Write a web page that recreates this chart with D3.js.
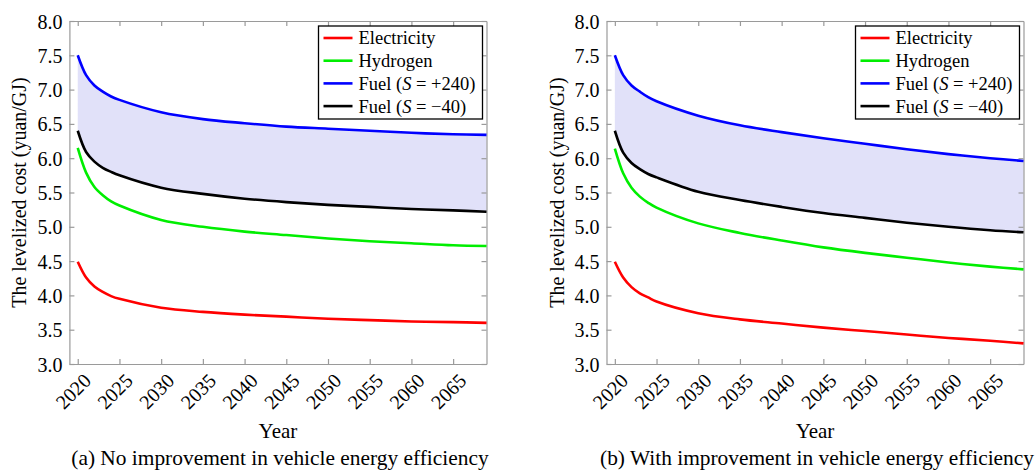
<!DOCTYPE html>
<html>
<head>
<meta charset="utf-8">
<script src="https://cdn.jsdelivr.net/npm/d3@7"></script>
<style>
  html, body { margin: 0; padding: 0; background: #fff; }
  svg, svg text { font-family: "Liberation Serif", "Times New Roman", serif !important; }
  svg { display: block; }
</style>
</head>
<body>
<svg id="chart" width="1035" height="470"></svg>
<script>
// ---------- data ----------
const years = [2020, 2021, 2022, 2023, 2024, 2025, 2030, 2035, 2040, 2045, 2050, 2055, 2060, 2065, 2069];

// (a) No improvement in vehicle energy efficiency
const elecA  = [4.49, 4.26, 4.13, 4.05, 3.99, 3.95, 3.82, 3.76, 3.72, 3.69, 3.66, 3.64, 3.62, 3.61, 3.60];
const hydroA = [6.15, 5.79, 5.58, 5.46, 5.37, 5.31, 5.10, 5.00, 4.93, 4.88, 4.83, 4.79, 4.76, 4.73, 4.72];
const fuelHiA = [7.50, 7.21, 7.06, 6.97, 6.90, 6.85, 6.67, 6.57, 6.51, 6.46, 6.43, 6.40, 6.37, 6.35, 6.34];
const fuelLoA = [6.40, 6.09, 5.95, 5.86, 5.80, 5.75, 5.57, 5.48, 5.41, 5.36, 5.32, 5.29, 5.26, 5.24, 5.22];

// (b) With improvement in vehicle energy efficiency
const elecB  = [4.49, 4.26, 4.12, 4.03, 3.97, 3.91, 3.74, 3.65, 3.59, 3.53, 3.48, 3.43, 3.38, 3.34, 3.30];
const hydroB = [6.14, 5.78, 5.57, 5.44, 5.35, 5.28, 5.05, 4.91, 4.80, 4.70, 4.62, 4.55, 4.48, 4.42, 4.38];
const fuelHiB = [7.50, 7.21, 7.06, 6.97, 6.89, 6.83, 6.62, 6.48, 6.38, 6.29, 6.21, 6.13, 6.06, 6.00, 5.96];
const fuelLoB = [6.40, 6.08, 5.93, 5.84, 5.77, 5.72, 5.51, 5.39, 5.29, 5.20, 5.13, 5.06, 5.00, 4.95, 4.92];

const xTicks = [2020, 2025, 2030, 2035, 2040, 2045, 2050, 2055, 2060, 2065];
const yTicks = [3.0, 3.5, 4.0, 4.5, 5.0, 5.5, 6.0, 6.5, 7.0, 7.5, 8.0];

const seriesNames = ["Electricity", "Hydrogen", "Fuel (S = +240)", "Fuel (S = \u221240)"];
const seriesColors = ["#ff0000", "#00ee00", "#0000ff", "#000000"];

const panels = [
  { left: 69.4, right: 486.5, caption: "(a) No improvement in vehicle energy efficiency",
    data: [elecA, hydroA, fuelHiA, fuelLoA] },
  { left: 606.5, right: 1023.5, caption: "(b) With improvement in vehicle energy efficiency",
    data: [elecB, hydroB, fuelHiB, fuelLoB] }
];

// ---------- drawing ----------
const svg = d3.select("#chart");
const plotTop = 21, plotBottom = 364;
const axisColor = "#9a9a9a";
const serif = "'Liberation Serif', 'Times New Roman', serif";

panels.forEach(p => {
  const x = d3.scaleLinear().domain([2019, 2069]).range([p.left, p.right]);
  const y = d3.scaleLinear().domain([3, 8]).range([plotBottom, plotTop]);
  const g = svg.append("g").style("font-family", serif);

  const pts = arr => years.map((yr, i) => ({ yr, v: arr[i] }));
  const curve = d3.curveCatmullRom.alpha(0.5);

  // shaded band between fuel curves
  const band = years.map((yr, i) => ({ yr, hi: p.data[2][i], lo: p.data[3][i] }));
  g.append("path")
    .datum(band)
    .attr("fill", "#e1e1f9")
    .attr("d", d3.area().curve(curve)
      .x(d => x(d.yr)).y0(d => y(d.lo)).y1(d => y(d.hi)));

  // axes (box with inward ticks)
  const tickLen = 5;
  const bottomAxis = d3.axisBottom(x).tickValues(xTicks).tickSizeInner(-tickLen).tickSizeOuter(0).tickFormat(d3.format("d"));
  const topAxis = d3.axisTop(x).tickValues(xTicks).tickSizeInner(-tickLen).tickSizeOuter(0).tickFormat("");
  const leftAxis = d3.axisLeft(y).tickValues(yTicks).tickSizeInner(-tickLen).tickSizeOuter(0).tickFormat(d3.format(".1f"));
  const rightAxis = d3.axisRight(y).tickValues(yTicks).tickSizeInner(-tickLen).tickSizeOuter(0).tickFormat("");

  const gb = g.append("g").attr("transform", `translate(0,${plotBottom})`).call(bottomAxis);
  const gt = g.append("g").attr("transform", `translate(0,${plotTop})`).call(topAxis);
  const gl = g.append("g").attr("transform", `translate(${p.left},0)`).call(leftAxis);
  const gr = g.append("g").attr("transform", `translate(${p.right},0)`).call(rightAxis);

  [gb, gt, gl, gr].forEach(a => {
    a.attr("font-family", null).style("font-family", serif);
    a.select(".domain").attr("stroke", axisColor).attr("stroke-width", 1.2);
    a.selectAll(".tick line").attr("stroke", axisColor).attr("stroke-width", 1.2);
  });
  gl.selectAll(".tick text")
    .attr("x", -7).attr("dy", "0.35em")
    .attr("font-size", 20).attr("fill", "#000")
    .style("font-family", serif);
  gb.selectAll(".tick text")
    .attr("font-size", 20).attr("fill", "#000")
    .style("font-family", serif)
    .attr("text-anchor", "end")
    .attr("y", 0).attr("dy", 0)
    .attr("transform", "translate(14,18) rotate(-45)");

  // lines
  p.data.forEach((arr, i) => {
    g.append("path")
      .datum(pts(arr))
      .attr("fill", "none")
      .attr("stroke", seriesColors[i])
      .attr("stroke-width", 2.6)
      .attr("d", d3.line().curve(curve).x(d => x(d.yr)).y(d => y(d.v)));
  });

  // y axis label
  g.append("text")
    .attr("transform", `translate(${p.left - 43},${(plotTop + plotBottom) / 2}) rotate(-90)`)
    .attr("text-anchor", "middle")
    .attr("font-size", 20)
    .text("The levelized cost (yuan/GJ)");

  // x axis label
  const cx = (p.left + p.right) / 2;
  g.append("text")
    .attr("x", cx).attr("y", 438)
    .attr("text-anchor", "middle")
    .attr("font-size", 21)
    .text("Year");

  // caption
  g.append("text")
    .attr("x", cx + 2).attr("y", 465)
    .attr("text-anchor", "middle")
    .attr("font-size", 21.4)
    .text(p.caption);

  // legend
  const lw = 164, lh = 93;
  const lx = p.right - 4 - lw, ly = 26;
  const lg = g.append("g").attr("transform", `translate(${lx},${ly})`);
  lg.append("rect").attr("width", lw).attr("height", lh)
    .attr("fill", "#fff").attr("stroke", "#000").attr("stroke-width", 1.3);
  seriesNames.forEach((name, i) => {
    const ry = 12 + i * 22.7;
    lg.append("line").attr("x1", 5).attr("x2", 34).attr("y1", ry).attr("y2", ry)
      .attr("stroke", seriesColors[i]).attr("stroke-width", 2.6);
    const t = lg.append("text").attr("x", 40).attr("y", ry).attr("dy", "0.35em")
      .attr("font-size", 18.5);
    if (name.includes("S")) {
      const parts = name.split("S");
      t.append("tspan").text(parts[0]);
      t.append("tspan").attr("font-style", "italic").text("S");
      t.append("tspan").text(parts[1]);
    } else {
      t.text(name);
    }
  });
});
</script>
</body>
</html>
